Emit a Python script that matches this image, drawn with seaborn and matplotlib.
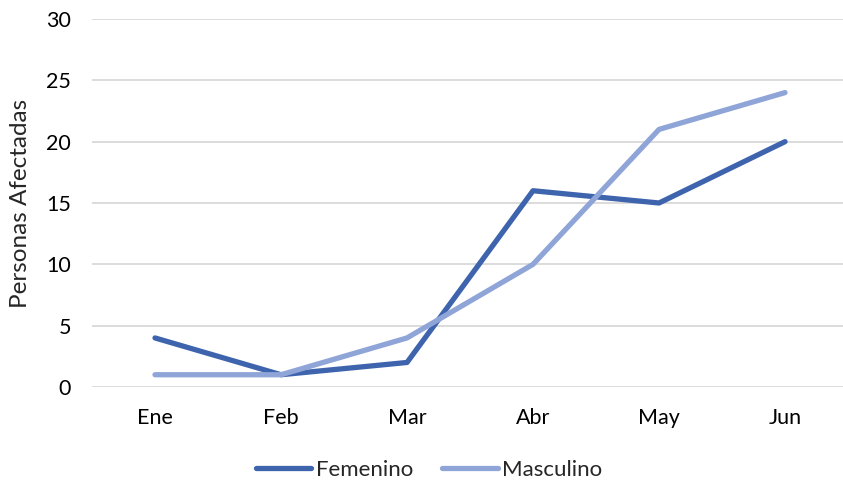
import pandas as pd
import numpy as np
import matplotlib.pyplot as plt
import seaborn as sns

# datos del grafico
meses = ["Ene", "Feb", "Mar", "Abr", "May", "Jun"]
femenino = [4, 1, 2, 16, 15, 20]
masculino = [1, 1, 4, 10, 21, 24]
series = ["Femenino", "Masculino"]
colores = ["#3E64AE", "#8FA5D8"]

data = pd.DataFrame({
    'Mes': meses * 2,
    'Personas': femenino + masculino,
    'Sexo': [series[0]] * len(meses) + [series[1]] * len(meses),
})

sns.set_style('white')
plt.rcParams['font.family'] = ['Lato', 'DejaVu Sans']

fig = plt.figure(figsize=(8.43, 4.83), dpi=100)
ax = fig.add_axes([92 / 843, 1 - 387 / 483, 1 - 92 / 843, (387 - 19) / 483])

sns.lineplot(data=data, x='Mes', y='Personas', hue='Sexo', palette=colores,
             linewidth=3.8, solid_capstyle='round', ax=ax, sort=False)

ax.set_xlim(-0.5, 5.46)
ax.set_ylim(0, 30)
ax.set_yticks(range(0, 31, 5))
ax.yaxis.grid(True, color='#D9D9D9', linewidth=1.3)
ax.set_axisbelow(True)
for s in ax.spines.values():
    s.set_visible(False)
ax.tick_params(axis='both', length=0, labelsize=15.5, pad=15, colors='#000000')
ax.set_xlabel('')
ax.set_ylabel('Personas Afectadas', fontsize=17.5, labelpad=11)

handles, labels = ax.get_legend_handles_labels()
ax.get_legend().remove()
fig.legend(handles, labels, loc='center', bbox_to_anchor=(429 / 843, 1 - 470 / 483),
           ncol=2, frameon=False, fontsize=16, handlelength=2.5,
           handletextpad=0.2, columnspacing=1.3)

plt.savefig('out.png', dpi=100)
